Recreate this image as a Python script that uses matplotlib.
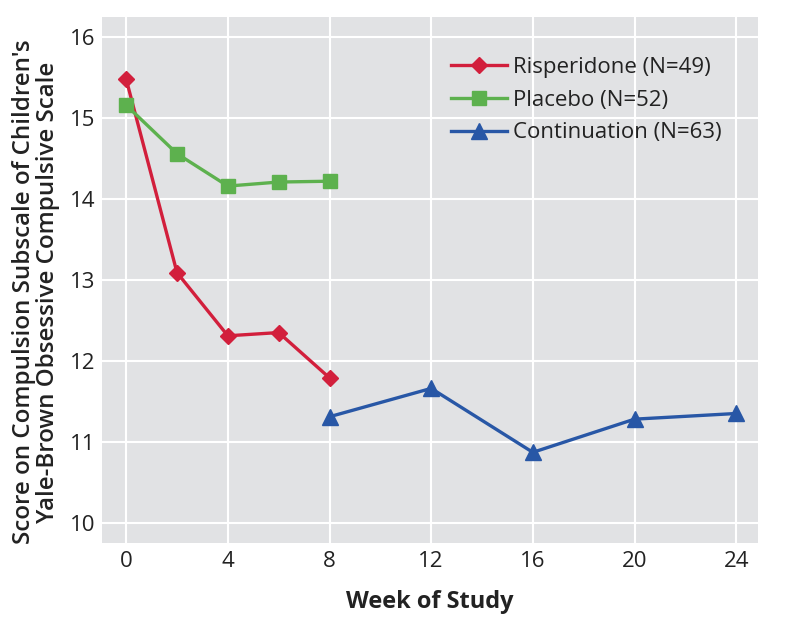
import matplotlib
matplotlib.use("Agg")
import matplotlib.pyplot as plt

plt.rcParams['font.family'] = ['Open Sans', 'DejaVu Sans']

risp_weeks = [0, 2, 4, 6, 8]
risp_scores = [15.48, 13.09, 12.31, 12.35, 11.79]
plac_weeks = [0, 2, 4, 6, 8]
plac_scores = [15.16, 14.56, 14.16, 14.21, 14.22]
cont_weeks = [8, 12, 16, 20, 24]
cont_scores = [11.31, 11.66, 10.87, 11.28, 11.35]
labels = ["Risperidone (N=49)", "Placebo (N=52)", "Continuation (N=63)"]
xticks = [0, 4, 8, 12, 16, 20, 24]
yticks = [10, 11, 12, 13, 14, 15, 16]

fig = plt.figure(figsize=(7.91, 6.27), dpi=100)
ax = fig.add_axes([0.129, 0.134, 0.829, 0.839])
ax.set_facecolor('#e1e2e4')
for s in ax.spines.values():
    s.set_visible(False)
ax.grid(True, color='white', linewidth=1.5)
ax.set_axisbelow(True)

ax.plot(risp_weeks, risp_scores, color='#d21f3c', marker='D', markersize=8.5, linewidth=2.4, label=labels[0])
ax.plot(plac_weeks, plac_scores, color='#5db14e', marker='s', markersize=10, linewidth=2.4, label=labels[1])
ax.plot(cont_weeks, cont_scores, color='#2857a6', marker='^', markersize=11, linewidth=2.4, label=labels[2])

ax.set_xlim(-0.95, 24.85)
ax.set_ylim(9.75, 16.25)
ax.set_xticks(xticks)
ax.set_yticks(yticks)
ax.tick_params(axis='y', length=0, labelsize=16, colors='#222222', pad=5)
ax.tick_params(axis='x', length=0, labelsize=16, colors='#222222', pad=6)
ax.set_xlabel("Week of Study", fontsize=17, fontweight='bold', color='#222222', labelpad=13)
ax.set_ylabel("Score on Compulsion Subscale of Children's\nYale-Brown Obsessive Compulsive Scale",
              fontsize=17.4, fontweight='semibold', color='#222222', linespacing=1.0)
ax.yaxis.set_label_coords(-0.064, 0.477)

leg = ax.legend(loc='upper right', bbox_to_anchor=(0.975, 0.962), frameon=False, fontsize=16,
                handlelength=2.55, labelspacing=0.53, handletextpad=0.25, labelcolor='#222222')

fig.savefig("out.png", dpi=100)
